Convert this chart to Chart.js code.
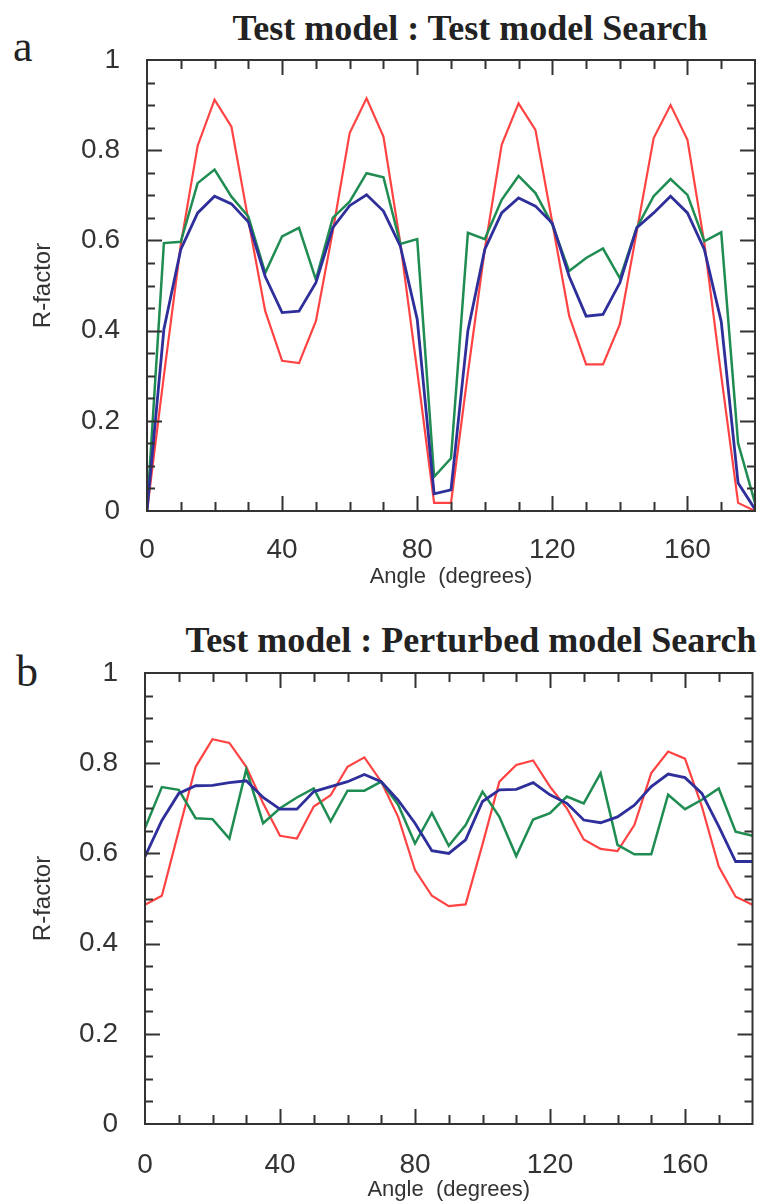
<!DOCTYPE html>
<html>
<head>
<meta charset="utf-8">
<script src="https://cdn.jsdelivr.net/npm/chart.js@4/dist/chart.umd.min.js"></script>
<style>
html,body{margin:0;padding:0;background:#fff;width:760px;height:1201px;overflow:hidden}
#wrap{position:relative;width:760px;height:1201px}
canvas{position:absolute;left:0}
.title{position:absolute;font-family:"Liberation Serif","Times New Roman",serif;font-weight:bold;font-size:36px;line-height:36px;white-space:nowrap;color:#222;transform:translateX(-50%)}
.panel{position:absolute;font-family:"Liberation Serif","Times New Roman",serif;font-size:44px;line-height:44px;color:#222}
</style>
</head>
<body>
<div id="wrap">
  <div class="title" style="left:470px;top:10px">Test model : Test model Search</div>
  <div class="panel" style="left:13px;top:25px">a</div>
  <canvas id="cA" width="760" height="600" style="top:0"></canvas>
  <div class="title" style="left:471px;top:622px">Test model : Perturbed model Search</div>
  <div class="panel" style="left:16px;top:650px">b</div>
  <canvas id="cB" width="760" height="601" style="top:600px"></canvas>
</div>
<script>
// ---- data ----
const angles = [0,5,10,15,20,25,30,35,40,45,50,55,60,65,70,75,80,85,90,95,100,105,110,115,120,125,130,135,140,145,150,155,160,165,170,175,180];
const xTickValues = [0,40,80,120,160];
const xTickLabels = ['0','40','80','120','160'];
const yTickValues = [0,0.2,0.4,0.6,0.8,1];
const yTickLabels = ['0','0.2','0.4','0.6','0.8','1'];

// Panel a : Test model Search
const redA   = [0,0.30,0.59,0.81,0.912,0.852,0.645,0.443,0.333,0.328,0.421,0.62,0.838,0.915,0.83,0.594,0.31,0.018,0.018,0.306,0.58,0.812,0.904,0.845,0.639,0.432,0.325,0.325,0.414,0.62,0.827,0.90,0.823,0.594,0.30,0.018,0];
const greenA = [0,0.594,0.597,0.727,0.757,0.697,0.653,0.528,0.609,0.628,0.513,0.65,0.686,0.749,0.74,0.592,0.603,0.076,0.117,0.617,0.603,0.69,0.743,0.705,0.635,0.532,0.561,0.582,0.516,0.628,0.698,0.736,0.701,0.598,0.618,0.15,0.018];
const blueA  = [0,0.403,0.58,0.661,0.698,0.681,0.641,0.52,0.44,0.443,0.506,0.628,0.677,0.701,0.665,0.587,0.425,0.038,0.047,0.40,0.58,0.661,0.694,0.676,0.638,0.52,0.432,0.436,0.506,0.628,0.661,0.698,0.661,0.58,0.42,0.062,0.004];

// Panel b : Perturbed model Search
const redB   = [0.486,0.506,0.65,0.792,0.853,0.845,0.792,0.711,0.639,0.633,0.704,0.729,0.792,0.813,0.759,0.681,0.563,0.506,0.483,0.487,0.62,0.759,0.796,0.806,0.748,0.70,0.631,0.61,0.605,0.663,0.778,0.826,0.81,0.704,0.571,0.504,0.486];
const greenB = [0.656,0.747,0.741,0.678,0.676,0.633,0.786,0.667,0.70,0.724,0.744,0.671,0.739,0.739,0.759,0.708,0.622,0.69,0.617,0.663,0.737,0.681,0.594,0.675,0.689,0.726,0.711,0.778,0.619,0.598,0.598,0.73,0.698,0.719,0.744,0.648,0.639];
const blueB  = [0.593,0.673,0.733,0.75,0.751,0.757,0.761,0.724,0.698,0.698,0.737,0.748,0.759,0.775,0.759,0.718,0.667,0.606,0.60,0.63,0.715,0.741,0.742,0.757,0.73,0.711,0.674,0.668,0.681,0.707,0.748,0.776,0.768,0.733,0.66,0.582,0.582];

// ---- styling ----
const RED = '#ff4343', GREEN = '#1f8c52', BLUE = '#2f2f9c', INK = '#333333';
const SANS = '"Liberation Sans", Arial, Helvetica, sans-serif';

const pts = arr => angles.map((a, i) => ({x: a, y: arr[i]}));

const frame = {
  id: 'frame',
  afterDraw(chart) {
    const {ctx, chartArea: {left, right, top, bottom}, scales: {x, y}} = chart;
    ctx.save();
    ctx.strokeStyle = INK;
    ctx.lineWidth = 2;
    ctx.strokeRect(left, top, right - left, bottom - top);
    ctx.beginPath();
    for (let v = 10; v < 180; v += 10) {
      const px = Math.round(x.getPixelForValue(v)) + 0.5;
      const L = (v % 40 === 0) ? 15 : 9;
      ctx.moveTo(px, bottom); ctx.lineTo(px, bottom - L);
      ctx.moveTo(px, top); ctx.lineTo(px, top + L);
    }
    for (let k = 1; k < 20; k++) {
      const v = k * 0.05;
      const py = Math.round(y.getPixelForValue(v)) + 0.5;
      const L = (k % 4 === 0) ? 15 : 8;
      ctx.moveTo(left, py); ctx.lineTo(left + L, py);
      ctx.moveTo(right, py); ctx.lineTo(right - L, py);
    }
    ctx.stroke();
    ctx.restore();
  }
};

function makeChart(id, reds, greens, blues, cfg) {
  return new Chart(document.getElementById(id), {
    type: 'line',
    data: {
      datasets: [
        {data: pts(blues), borderColor: BLUE, borderWidth: 2.8},
        {data: pts(greens), borderColor: GREEN, borderWidth: 2.5},
        {data: pts(reds), borderColor: RED, borderWidth: 2.2}
      ]
    },
    options: {
      responsive: false,
      animation: false,
      layout: {padding: {top: cfg.top, right: cfg.right, left: 0, bottom: 0}},
      plugins: {legend: {display: false}, tooltip: {enabled: false}, title: {display: false}},
      elements: {point: {radius: 0}, line: {tension: 0, fill: false}},
      scales: {
        x: {
          type: 'linear', min: 0, max: 180,
          grid: {display: false, drawTicks: false},
          border: {display: false},
          afterBuildTicks: s => { s.ticks = xTickValues.map(v => ({value: v})); },
          afterFit: s => { s.height = cfg.xh; },
          ticks: {padding: cfg.xpad, color: INK, maxRotation: 0, autoSkip: false,
                  font: {family: SANS, size: 28},
                  callback: (v, i) => xTickLabels[i]},
          title: {display: true, text: 'Angle  (degrees)', color: INK,
                  font: {family: SANS, size: 22, lineHeight: 1},
                  padding: {top: 0, bottom: cfg.tpad}}
        },
        y: {
          type: 'linear', min: 0, max: 1,
          grid: {display: false, drawTicks: false},
          border: {display: false},
          afterBuildTicks: s => { s.ticks = yTickValues.map(v => ({value: v})); },
          afterFit: s => { s.width = cfg.yw; },
          ticks: {padding: 27, color: INK, font: {family: SANS, size: 28},
                  callback: (v, i) => yTickLabels[i]},
          title: {display: true, text: 'R-factor', color: INK,
                  font: {family: SANS, size: 24, lineHeight: 1},
                  padding: {top: 31, bottom: 0}}
        }
      }
    },
    plugins: [frame]
  });
}

makeChart('cA', redA, greenA, blueA, {top: 60, right: 5, xh: 89, yw: 147, xpad: 22, tpad: 12});
makeChart('cB', redB, greenB, blueB, {top: 73, right: 7.5, xh: 77, yw: 145, xpad: 24, tpad: 0});
</script>
</body>
</html>
